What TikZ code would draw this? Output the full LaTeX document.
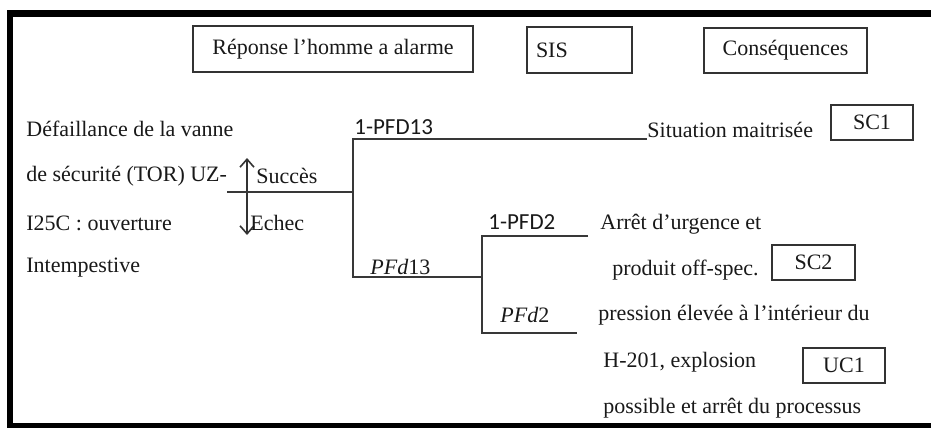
\documentclass[tikz,border=0pt]{standalone}
\usepackage{fontspec}
\setmainfont{Liberation Serif}
\newfontfamily\labelsans{Carlito}
\usepackage{tikz}
\usetikzlibrary{arrows.meta,positioning}
\tikzset{>=latex}
\tikzset{
  txt/.style={anchor=west, inner sep=0pt, text=black!90, font=\fontsize{11}{13}\selectfont},
  prob/.style={anchor=west, inner sep=0pt, text=black!90, font=\labelsans\fontsize{11.5}{13}\selectfont},
  hdr/.style={draw=black!80, line width=0.9pt, inner sep=0pt, text=black!90, font=\fontsize{11}{13}\selectfont},
  branch/.style={draw=black!78, line width=1pt},
  updown/.style={draw=black!80, line width=0.8pt, {Straight Barb[length=4pt,width=7pt]}-{Straight Barb[length=4pt,width=7pt]}},
}
\begin{document}
\begin{tikzpicture}[x=0.5pt,y=-0.5pt]
    \useasboundingbox (0,0) rectangle (931,428);
    \fill[white] (0,0) rectangle (931,428);
    % outer frame
    \fill[black] (7,10) rectangle (931,17);
    \fill[black] (7,10) rectangle (13,428);
    \fill[black] (7,423) rectangle (931,428);

    % header boxes
    \node[hdr, minimum width=140pt, minimum height=23pt] (rep) at (333,49) {Réponse l’homme a alarme};
    \node[hdr, text width=43.5pt, inner xsep=4.5pt, minimum height=23pt, align=left] (sis) at (579.5,50) {SIS};
    \node[hdr, minimum width=81.5pt, minimum height=22.5pt] (cons) at (785.5,50.5) {Conséquences};

    % initiating event
    \node[txt] (ev1) at (26,129) {Défaillance de la vanne};
    \node[txt] (ev2) at (26,176) {de sécurité (TOR) UZ-};
    \node[txt] (ev3) at (26,223) {I25C : ouverture};
    \node[txt] (ev4) at (26,268) {Intempestive};

    % success / failure arrow
    \coordinate (aup) at (247,158);
    \coordinate (adn) at (247,235);
    \draw[updown] (aup) -- (adn);
    \node[txt] (succ) at (256,176) {Succès};
    \node[txt] (ech) at (250,223) {Echec};

    % tree
    \coordinate (root) at (227,192);
    \coordinate (b1) at (353,192);
    \coordinate (b1s) at (353,139);
    \coordinate (b1e) at (353,277);
    \coordinate (b2) at (482,277);
    \coordinate (b2s) at (482,236);
    \coordinate (b2e) at (482,333);
    \coordinate (end1) at (647,139);
    \coordinate (end2) at (588,236);
    \coordinate (end3) at (577,333);
    \draw[branch] (root) -- (b1);
    \draw[branch] (end1) -- (b1s) -- (b1e) -- (b2);
    \draw[branch] (end2) -- (b2s) -- (b2e) -- (end3);

    \node[prob] (p13s) at (354,127) {1-PFD13};
    \node[txt] (p13f) at (370,267) {\textit{PFd}13};
    \node[prob] (p2s) at (488,222) {1-PFD2};
    \node[txt] (p2f) at (500,315) {\textit{PFd}2};

    % consequences
    \node[txt] (sit) at (647,130) {Situation maitrisée};
    \node[hdr, minimum width=41pt, minimum height=17.5pt] (sc1) at (872,122.5) {SC1};
    \node[txt] (c2a) at (600,224) {Arrêt d’urgence et};
    \node[txt] (c2b) at (612,270) {produit off-spec.};
    \node[hdr, minimum width=41.5pt, minimum height=17.5pt] (sc2) at (813.5,262.5) {SC2};
    \node[txt] (c3a) at (598,315) {pression élevée à l’intérieur du};
    \node[txt] (c3b) at (603,362) {H-201, explosion};
    \node[txt] (c3c) at (603,408) {possible et arrêt du processus};
    \node[hdr, minimum width=41pt, minimum height=17.5pt] (uc1) at (844,365.5) {UC1};
\end{tikzpicture}
\end{document}
